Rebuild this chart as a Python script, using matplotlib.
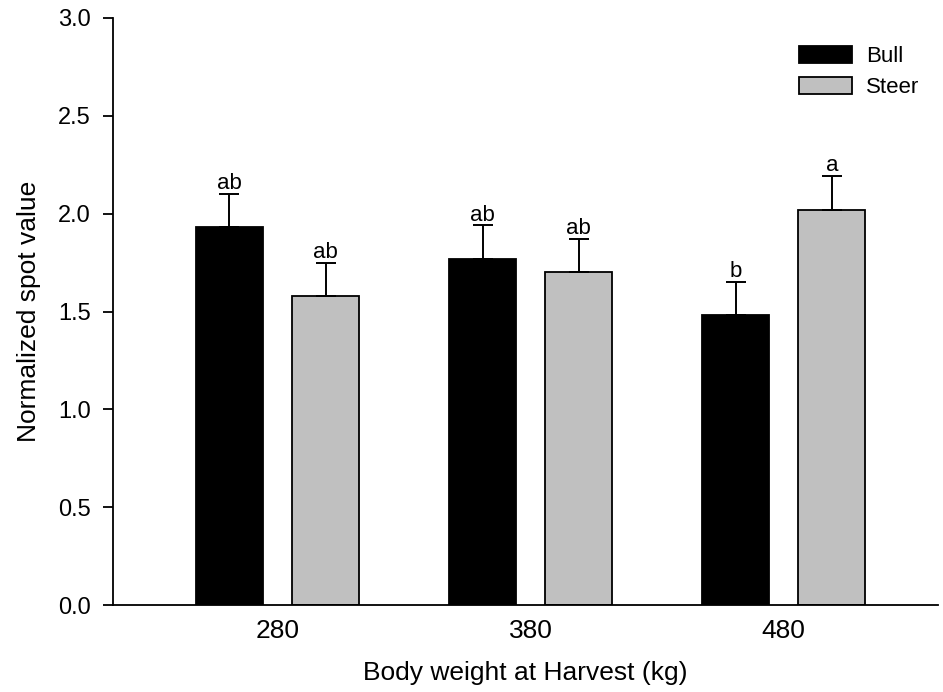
import matplotlib
matplotlib.use('Agg')
import matplotlib.pyplot as plt
import numpy as np

plt.rcParams['font.family'] = ['Liberation Sans', 'DejaVu Sans']

weights = ['280', '380', '480']
bull = [1.93, 1.77, 1.48]
steer = [1.58, 1.70, 2.02]
bull_err = [0.17, 0.17, 0.17]
steer_err = [0.17, 0.17, 0.175]
bull_letters = ['ab', 'ab', 'b']
steer_letters = ['ab', 'ab', 'a']

fig = plt.figure(figsize=(9.43, 6.92), dpi=100)
ax = fig.add_axes([0.1198, 0.1257, 0.875, 0.8483])

x = np.arange(len(weights))
w = 0.265
off = 0.19
ax.bar(x - off, bull, w, color='black', edgecolor='black', lw=1.3, label='Bull', zorder=2)
ax.bar(x + off, steer, w, color='#c0c0c0', edgecolor='black', lw=1.3, label='Steer', zorder=2)
ax.errorbar(x - off, bull, yerr=[[0] * 3, bull_err], fmt='none', ecolor='black',
            elinewidth=1.4, capsize=7, capthick=1.4, zorder=3)
ax.errorbar(x + off, steer, yerr=[[0] * 3, steer_err], fmt='none', ecolor='black',
            elinewidth=1.4, capsize=7, capthick=1.4, zorder=3)

for xi, v, e, t in zip(x - off, bull, bull_err, bull_letters):
    ax.text(xi, v + e + 0.025, t, ha='center', va='baseline', fontsize=16)
for xi, v, e, t in zip(x + off, steer, steer_err, steer_letters):
    ax.text(xi, v + e + 0.025, t, ha='center', va='baseline', fontsize=16)

ax.set_xlim(-0.65, 2.61)
ax.set_ylim(0, 3.0)
ticks = np.arange(0, 3.01, 0.5)
ax.set_yticks(ticks)
ax.set_yticklabels([f'{v:.1f}' for v in ticks])
ax.set_xticks(x)
ax.set_xticklabels(weights)
ax.tick_params(axis='x', length=0, labelsize=19, pad=10)
ax.tick_params(axis='y', length=7, width=1.3, labelsize=17, pad=9, direction='out')
for sp in ('top', 'right'):
    ax.spines[sp].set_visible(False)
ax.spines['left'].set_linewidth(1.3)
ax.spines['bottom'].set_linewidth(1.3)

ax.set_xlabel('Body weight at Harvest (kg)', fontsize=19, labelpad=13)
ax.set_ylabel('Normalized spot value', fontsize=19, labelpad=12)

ax.legend(loc='upper left', bbox_to_anchor=(799 / 943, 1 - 46 / 692),
          bbox_transform=fig.transFigure, frameon=False, fontsize=16,
          borderpad=0, borderaxespad=0,
          handlelength=2.4, handleheight=0.8, handletextpad=0.6, labelspacing=0.45)

fig.savefig('out.png', dpi=100)
